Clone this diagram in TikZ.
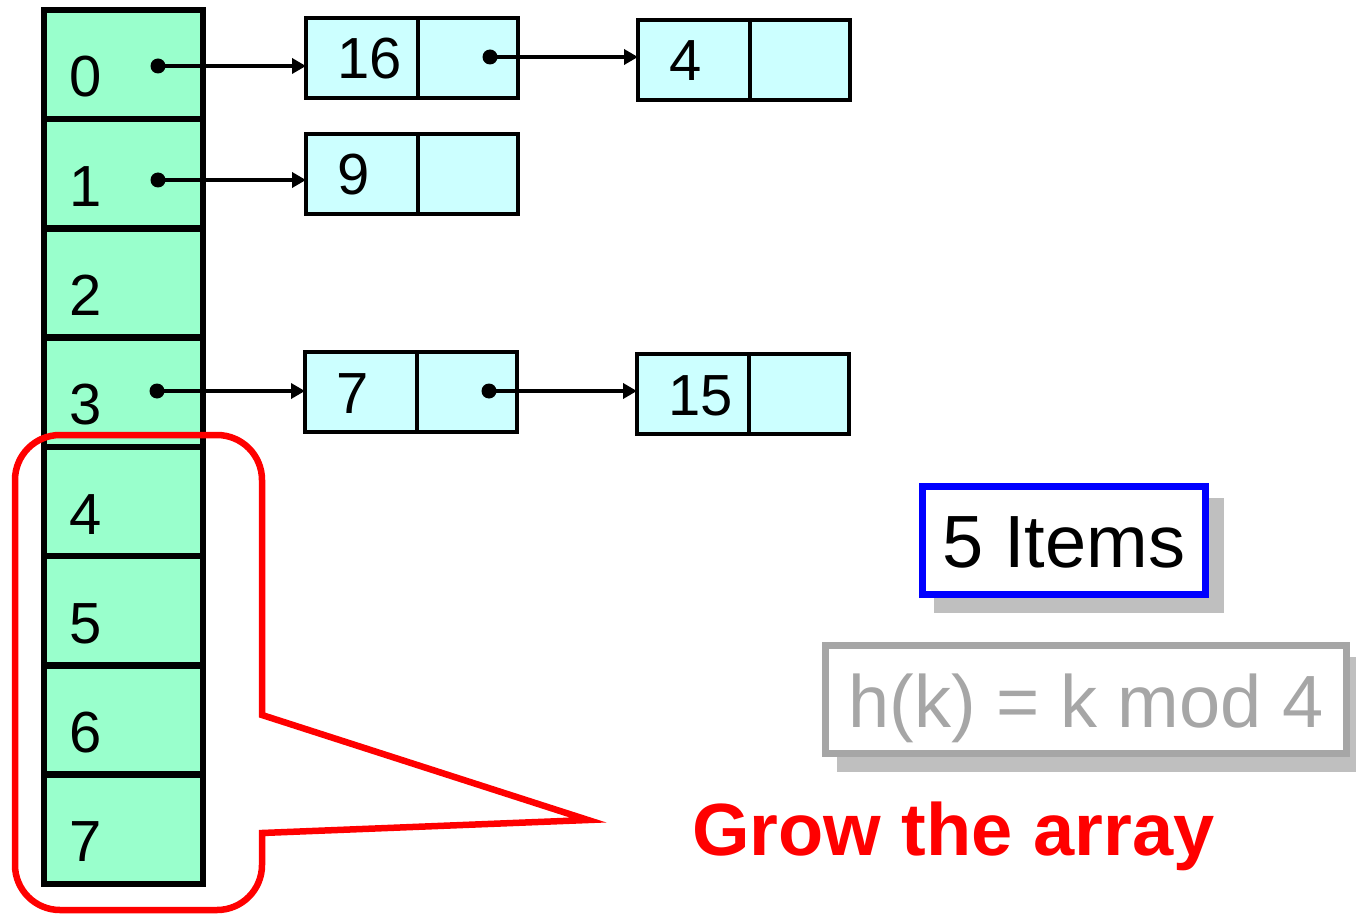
\documentclass[tikz,border=0pt]{standalone}
\usepackage{fontspec}
\setmainfont{Liberation Sans}
\usetikzlibrary{arrows.meta,positioning,shadows}

\definecolor{slotgreen}{HTML}{99FFCC}
\definecolor{cellcyan}{HTML}{CCFFFF}
\definecolor{hashgray}{HTML}{A6A6A6}
\definecolor{shadegray}{HTML}{BFBFBF}

\tikzset{
  slot/.style={draw,line width=6.5pt,fill=slotgreen,minimum width=159pt,minimum height=109.25pt,inner sep=0pt},
  idx/.style={anchor=base west,inner sep=0pt,font=\fontsize{58}{60}\selectfont},
  keycell/.style={draw,line width=4pt,fill=cellcyan,minimum height=80pt,text width=50pt,inner xsep=31pt,inner ysep=0pt,
    outer sep=0pt,align=left,text height=42pt,text depth=0pt,font=\fontsize{58}{60}\selectfont},
  nextcell/.style={draw,line width=4pt,fill=cellcyan,minimum width=100pt,minimum height=80pt,inner sep=0pt,outer sep=0pt},
  dot/.style={circle,fill,inner sep=0pt,minimum size=15pt},
  link/.style={-{Triangle[length=14pt,width=15pt]},line width=3.5pt},
  callout/.style={draw=red,line width=6.5pt},
  boxed/.style={line width=7pt,fill=white,minimum height=108pt,inner sep=0pt,text depth=0pt,
    font=\fontsize{74}{76}\selectfont,
    drop shadow={shadow xshift=15pt,shadow yshift=-15pt,fill=shadegray,draw=shadegray,line width=7pt,opacity=1}},
}

\begin{document}
\begin{tikzpicture}[x=1pt,y=-1pt]
  \useasboundingbox (0,0) rectangle (1356,917);

  % table slots 0..7
  \foreach \i in {0,...,7}{
    \node[slot] (s\i) at (123.5,{64.6+\i*109.25}) {};
    \node[idx] (d\i) at (69,{97+\i*109.25}) {\i};
  }

  % chained list cells
  \node[keycell] (k0a) at (362,58) {16};
  \node[nextcell,right=0pt of k0a] (p0a) {};
  \node[keycell] (k0b) at (694,60) {4};
  \node[nextcell,right=0pt of k0b] (p0b) {};
  \node[keycell] (k1a) at (362,174) {9};
  \node[nextcell,right=0pt of k1a] (p1a) {};
  \node[keycell] (k3a) at (361,392) {7};
  \node[nextcell,right=0pt of k3a] (p3a) {};
  \node[keycell] (k3b) at (693,394) {15};
  \node[nextcell,right=0pt of k3b] (p3b) {};

  % pointers
  \node[dot] (h0) at (158,66) {};
  \node[dot] (h1) at (158,180) {};
  \node[dot] (h3) at (157,391) {};
  \node[dot] (n0) at (490,57) {};
  \node[dot] (n3) at (489,391) {};
  \foreach \u/\v in {h0/k0a,h1/k1a,h3/k3a,n0/k0b,n3/k3b}
    \draw[link] (\u.center) -- (\u.center -| \v.west);

  % callout round the new slots
  \draw[callout] (262,715) -- (588,820) -- (262,833) [rounded corners=45pt] -- (262,910)
    -- (15,910) -- (15,435) -- (262,435) [sharp corners] -- cycle;
  \node[anchor=base west,inner sep=0pt,text=red,font=\bfseries\fontsize{74}{76}\selectfont] (grow)
    at (692,855) {Grow the array};

  \node[boxed,draw=blue,minimum width=283pt,text height=53pt] (items) at (1064,540.5) {5 Items};
  \node[boxed,draw=hashgray,text=hashgray,minimum width=521pt,text height=55pt] (hash)
    at (1086,699.5) {h(k) = k mod 4};
\end{tikzpicture}
\end{document}
